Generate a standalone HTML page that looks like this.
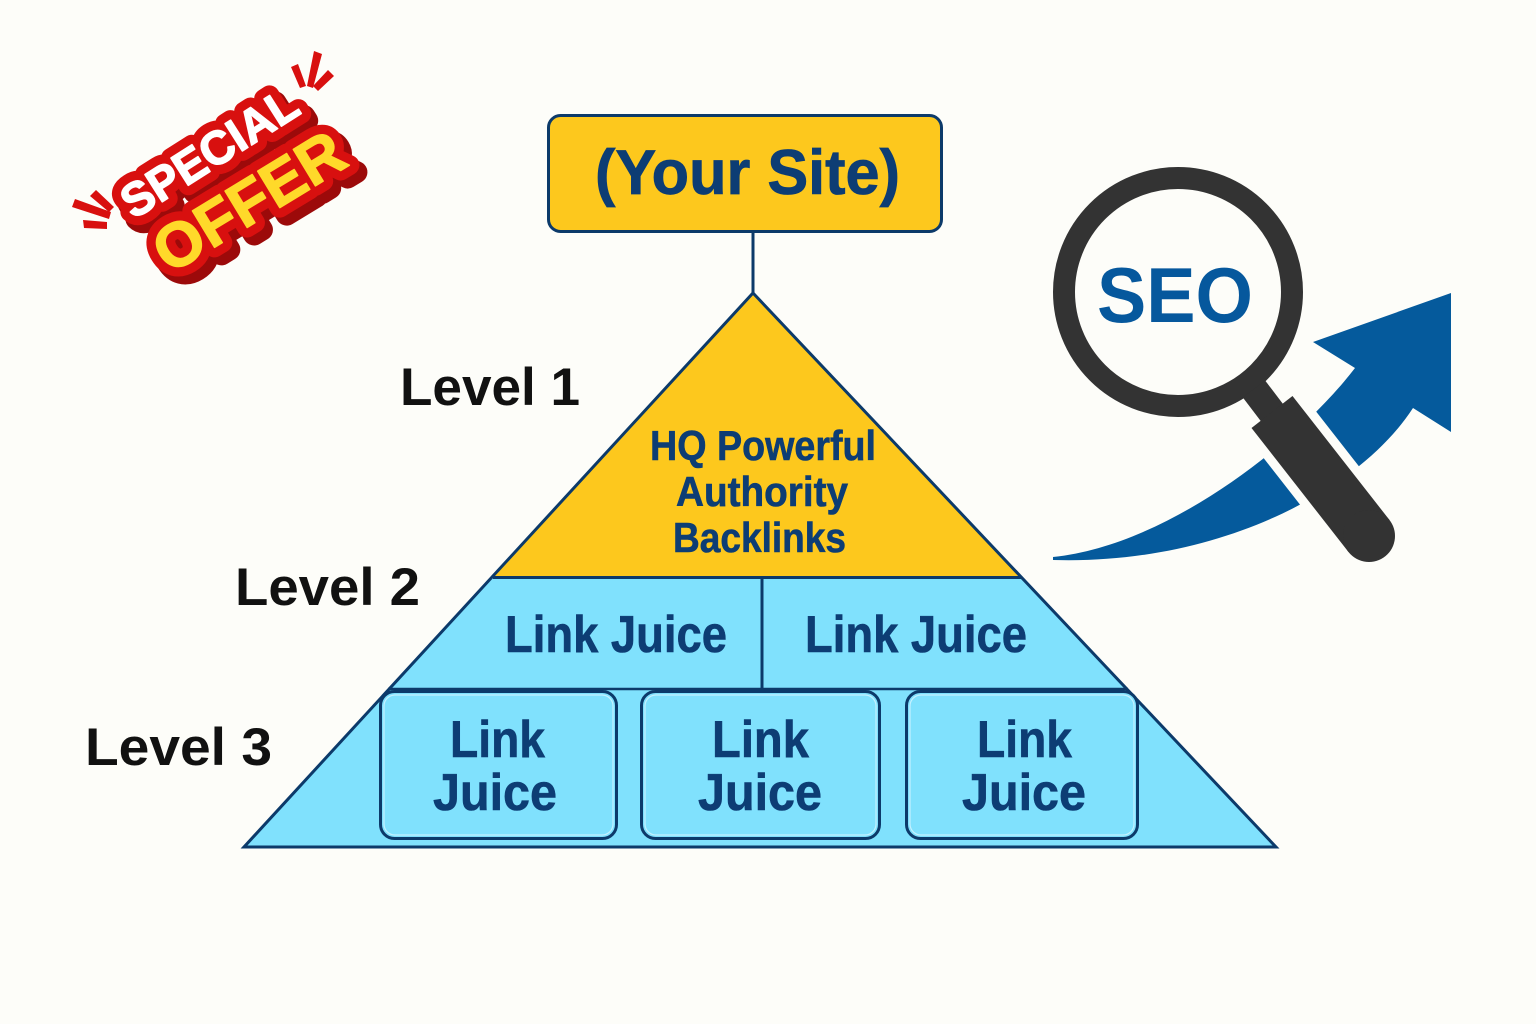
<!DOCTYPE html>
<html>
<head>
<meta charset="utf-8">
<style>
  html,body{margin:0;padding:0;background:#fdfdf9;}
  svg{display:block;}
  text{font-family:"Liberation Sans",Arial,sans-serif;font-weight:bold;}
</style>
</head>
<body>
<svg width="1536" height="1024" viewBox="0 0 1536 1024" xmlns="http://www.w3.org/2000/svg">
  <rect x="0" y="0" width="1536" height="1024" fill="#fdfdf9"/>

  <!-- ===== SPECIAL OFFER badge ===== -->
  <g>
    <!-- sparks -->
    <g fill="#d8100f">
      <polygon points="90,196 96,190 114,207 109,212"/>
      <polygon points="72,207 75,199 111,212 109,219"/>
      <polygon points="83,220 107,222 107,229 84,228"/>
      <polygon points="291,67 298,64 306,86 300,88"/>
      <polygon points="314,51 322,54 313,88 307,86"/>
      <polygon points="328,70 334,76 318,91 313,86"/>
    </g>
    <!-- shadow extrusion -->
    <g fill="#9c0a0a" stroke="#9c0a0a" stroke-width="22" stroke-linejoin="round">
      <text transform="translate(215,159) rotate(-32.4)" x="0" y="17" font-size="47" text-anchor="middle" textLength="200" lengthAdjust="spacingAndGlyphs">SPECIAL</text>
      <text transform="translate(255,207) rotate(-31.3)" x="0" y="23" font-size="62" text-anchor="middle" textLength="212" lengthAdjust="spacingAndGlyphs">OFFER</text>
    </g>
    <!-- red outline -->
    <g fill="#d8100f" stroke="#d8100f" stroke-width="20" stroke-linejoin="round">
      <text transform="translate(209,152) rotate(-32.4)" x="0" y="17" font-size="47" text-anchor="middle" textLength="200" lengthAdjust="spacingAndGlyphs">SPECIAL</text>
      <text transform="translate(248,200) rotate(-31.3)" x="0" y="23" font-size="62" text-anchor="middle" textLength="212" lengthAdjust="spacingAndGlyphs">OFFER</text>
    </g>
    <!-- fills -->
    <text transform="translate(209,152) rotate(-32.4)" x="0" y="17" font-size="47" text-anchor="middle" textLength="200" lengthAdjust="spacingAndGlyphs" fill="#ffffff" stroke="#ffffff" stroke-width="1.5" stroke-linejoin="round">SPECIAL</text>
    <text transform="translate(248,200) rotate(-31.3)" x="0" y="23" font-size="62" text-anchor="middle" textLength="212" lengthAdjust="spacingAndGlyphs" fill="#ffd92a" stroke="#ffd92a" stroke-width="1.5" stroke-linejoin="round">OFFER</text>
  </g>

  <!-- ===== Top box ===== -->
  <line x1="753" y1="232" x2="753" y2="294" stroke="#0c3a6a" stroke-width="3"/>
  <rect x="548.5" y="115.5" width="393" height="116" rx="12" ry="12" fill="#fdc81d" stroke="#0c3a6a" stroke-width="3"/>
  <text x="595" y="194" font-size="63" fill="#0d3d74" stroke="#0d3d74" stroke-width="0.8" textLength="305" lengthAdjust="spacingAndGlyphs">(Your Site)</text>

  <!-- ===== Pyramid ===== -->
  <polygon points="388,690 1128,690 1276,847 244,847" fill="#80e1fd"/>
  <polygon points="493,577 1021,577 1128,690 388,690" fill="#80e1fd"/>
  <polygon points="753,293 1021,577 493,577" fill="#fdc81d"/>
  <line x1="493" y1="577.5" x2="1021" y2="577.5" stroke="#0c3a6a" stroke-width="3"/>
  <line x1="388" y1="689" x2="1128" y2="689" stroke="#0c3a6a" stroke-width="2.5"/>
  <line x1="762" y1="577" x2="762" y2="690" stroke="#0c3a6a" stroke-width="3"/>
  <polygon points="753,293 1276,847 244,847" fill="none" stroke="#0c3a6a" stroke-width="3" stroke-linejoin="miter"/>

  <!-- level 3 boxes -->
  <rect x="380.5" y="691.5" width="236" height="147" rx="14" ry="14" fill="#80e1fd" stroke="#0c3a6a" stroke-width="3"/>
  <rect x="641.5" y="691.5" width="238" height="147" rx="14" ry="14" fill="#80e1fd" stroke="#0c3a6a" stroke-width="3"/>
  <rect x="906.5" y="691.5" width="231" height="147" rx="14" ry="14" fill="#80e1fd" stroke="#0c3a6a" stroke-width="3"/>
  <g fill="none" stroke="#c4f1ff" stroke-width="1.2">
    <rect x="384" y="695" width="229" height="140" rx="11" ry="11"/>
    <rect x="645" y="695" width="231" height="140" rx="11" ry="11"/>
    <rect x="910" y="695" width="224" height="140" rx="11" ry="11"/>
  </g>

  <!-- pyramid texts -->
  <g fill="#0d3d74" stroke="#0d3d74" stroke-width="0.6">
    <text x="650" y="460" font-size="42" textLength="226" lengthAdjust="spacingAndGlyphs">HQ Powerful</text>
    <text x="676" y="506" font-size="42" textLength="172" lengthAdjust="spacingAndGlyphs">Authority</text>
    <text x="673" y="552" font-size="42" textLength="173" lengthAdjust="spacingAndGlyphs">Backlinks</text>
  </g>
  <g fill="#0d3d74" stroke="#0d3d74" stroke-width="0.6" font-size="52">
    <text x="505" y="652" font-size="52" textLength="222" lengthAdjust="spacingAndGlyphs">Link Juice</text>
    <text x="805" y="652" font-size="52" textLength="222" lengthAdjust="spacingAndGlyphs">Link Juice</text>
    <text x="450" y="757" font-size="52" textLength="95" lengthAdjust="spacingAndGlyphs">Link</text>
    <text x="433" y="810" font-size="52" textLength="124" lengthAdjust="spacingAndGlyphs">Juice</text>
    <text x="712" y="757" font-size="52" textLength="97" lengthAdjust="spacingAndGlyphs">Link</text>
    <text x="698" y="810" font-size="52" textLength="124" lengthAdjust="spacingAndGlyphs">Juice</text>
    <text x="977" y="757" font-size="52" textLength="95" lengthAdjust="spacingAndGlyphs">Link</text>
    <text x="962" y="810" font-size="52" textLength="124" lengthAdjust="spacingAndGlyphs">Juice</text>
  </g>

  <!-- level labels -->
  <g fill="#111111" font-size="53">
    <text x="400" y="405" font-size="53" textLength="180" lengthAdjust="spacingAndGlyphs">Level 1</text>
    <text x="235" y="605" font-size="53" textLength="185" lengthAdjust="spacingAndGlyphs">Level 2</text>
    <text x="85" y="765" font-size="53" textLength="187" lengthAdjust="spacingAndGlyphs">Level 3</text>
  </g>

  <!-- ===== SEO icon ===== -->
  <path d="M1053,557 C1170,545 1300,440 1355,368 L1313,342 L1451,293 L1451,432 L1413,408 C1360,490 1220,565 1053,560 Z" fill="#055a9c"/>
  <!-- gap around handle -->
  <line x1="1272" y1="412" x2="1369" y2="536" stroke="#fdfdf9" stroke-width="70"/>
  <circle cx="1369" cy="536" r="35" fill="#fdfdf9"/>
  <!-- lens -->
  <circle cx="1178" cy="292" r="114" fill="#fdfdf9" stroke="#333333" stroke-width="22"/>
  <!-- neck -->
  <line x1="1254" y1="389" x2="1273" y2="414" stroke="#333333" stroke-width="28"/>
  <!-- handle -->
  <polygon points="1251.5,428 1292.5,396 1389.5,520 1348.5,552" fill="#333333"/>
  <circle cx="1369" cy="536" r="26" fill="#333333"/>
  <text x="1097" y="322" font-size="78" fill="#06589d" textLength="156" lengthAdjust="spacingAndGlyphs">SEO</text>
</svg>
</body>
</html>
